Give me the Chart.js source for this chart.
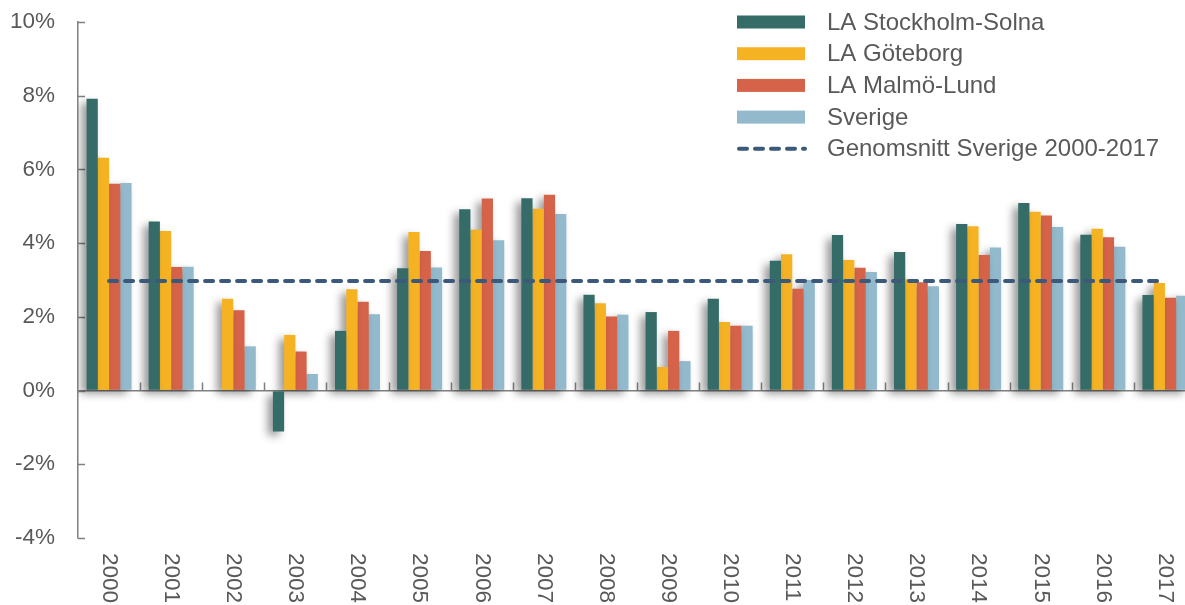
<!DOCTYPE html>
<html>
<head>
<meta charset="utf-8">
<script src="https://cdn.jsdelivr.net/npm/chart.js@4.4.1/dist/chart.umd.min.js"></script>
<style>
  html, body { margin: 0; padding: 0; background: #fff; overflow: hidden; }
  #wrap { width: 1196px; height: 605px; }
</style>
</head>
<body>
<div id="wrap"><canvas id="chart" width="1196" height="605"></canvas></div>
<script>
// --- Data ---
const years = ['2000', '2001', '2002', '2003', '2004', '2005', '2006', '2007', '2008',
               '2009', '2010', '2011', '2012', '2013', '2014', '2015', '2016', '2017'];
const stockholm = [7.92, 4.59, null, -1.11, 1.62, 3.32, 4.92, 5.22, 2.60, 2.13, 2.49, 3.52, 4.22, 3.76, 4.52, 5.09, 4.23, 2.59];
const goteborg  = [6.32, 4.33, 2.49, 1.51, 2.75, 4.30, 4.36, 4.93, 2.37, 0.64, 1.86, 3.70, 3.54, 3.02, 4.46, 4.85, 4.39, 2.92];
const malmo     = [5.61, 3.35, 2.18, 1.06, 2.41, 3.79, 5.21, 5.31, 2.01, 1.62, 1.76, 2.76, 3.33, 2.94, 3.68, 4.75, 4.16, 2.52];
const sverige   = [5.63, 3.36, 1.20, 0.45, 2.07, 3.34, 4.08, 4.79, 2.06, 0.80, 1.76, 3.00, 3.22, 2.83, 3.88, 4.44, 3.90, 2.57];
const avgSverige = 2.97;
const yMin = -4, yMax = 10, yStep = 2;

const textColor = '#595959';
const axisColor = '#808080';
const fontFamily = '"Liberation Sans", Arial, sans-serif';

// skugga bakom staplarna
const barShadow = {
    id: 'barShadow',
    beforeDatasetDraw(chart, args) {
        if (args.meta.type !== 'bar') return;
        const ctx = chart.ctx;
        ctx.save();
        ctx.shadowColor = 'rgba(0, 0, 0, 0.42)';
        ctx.shadowBlur = 8;
        ctx.shadowOffsetX = -5;
        ctx.shadowOffsetY = 4;
    },
    afterDatasetDraw(chart, args) {
        if (args.meta.type !== 'bar') return;
        chart.ctx.restore();
    }
};

// små inåtvända tickar på axlarna + årtal
const innerTicks = {
    id: 'innerTicks',
    beforeDatasetsDraw(chart) {
        const { ctx, scales: { x, y } } = chart;
        ctx.save();
        ctx.strokeStyle = axisColor;
        ctx.lineWidth = 1.5;
        ctx.beginPath();
        for (let v = yMin; v <= yMax; v += yStep) {
            const py = Math.round(y.getPixelForValue(v)) + 0.5;
            ctx.moveTo(x.left, py);
            ctx.lineTo(x.left + 7, py);
        }
        const y0 = y.getPixelForValue(0);
        for (let i = 1; i < years.length; i++) {
            const px = Math.round((x.getPixelForTick(i - 1) + x.getPixelForTick(i)) / 2) + 0.5;
            ctx.moveTo(px, y0);
            ctx.lineTo(px, y0 - 8);
        }
        ctx.stroke();
        ctx.restore();
    },
    afterDraw(chart) {
        const { ctx, scales: { x, y } } = chart;
        ctx.save();
        ctx.fillStyle = textColor;
        ctx.font = '22.5px ' + fontFamily;
        ctx.textAlign = 'left';
        ctx.textBaseline = 'middle';
        years.forEach((yr, i) => {
            ctx.save();
            ctx.translate(x.getPixelForTick(i), y.bottom + 15);
            ctx.rotate(Math.PI / 2);
            ctx.fillText(yr, 0, 0);
            ctx.restore();
        });
        ctx.restore();
    }
};

// egen legend inne i diagrammet
const boxLegend = {
    id: 'boxLegend',
    afterDraw(chart) {
        const ctx = chart.ctx;
        const x0 = 737, boxW = 68, boxH = 13, textX = 827, top = 22, rowH = 31.7;
        ctx.save();
        ctx.font = '24px ' + fontFamily;
        ctx.textBaseline = 'middle';
        ctx.textAlign = 'left';
        chart.data.datasets.forEach((ds, i) => {
            const cy = top + i * rowH;
            if (ds.type === 'line') {
                ctx.strokeStyle = ds.borderColor;
                ctx.lineWidth = 4;
                ctx.lineCap = 'round';
                ctx.setLineDash(ds.borderDash);
                ctx.beginPath();
                ctx.moveTo(x0 + 2, cy);
                ctx.lineTo(x0 + boxW, cy);
                ctx.stroke();
                ctx.setLineDash([]);
            } else {
                ctx.fillStyle = ds.backgroundColor;
                ctx.fillRect(x0, cy - boxH / 2, boxW, boxH);
            }
            ctx.fillStyle = textColor;
            ctx.fillText(ds.label, textX, cy + 1);
        });
        ctx.restore();
    }
};

const ctx = document.getElementById('chart').getContext('2d');
new Chart(ctx, {
    data: {
        labels: years,
        datasets: [
            { type: 'bar', label: 'LA Stockholm-Solna', data: stockholm, backgroundColor: '#356c68' },
            { type: 'bar', label: 'LA Göteborg', data: goteborg, backgroundColor: '#f5b324' },
            { type: 'bar', label: 'LA Malmö-Lund', data: malmo, backgroundColor: '#d5634a' },
            { type: 'bar', label: 'Sverige', data: sverige, backgroundColor: '#92b9cc' },
            {
                type: 'line', label: 'Genomsnitt Sverige 2000-2017',
                data: years.map(() => avgSverige),
                borderColor: '#3c5979', borderWidth: 4, borderDash: [8, 8],
                borderCapStyle: 'round', pointRadius: 0, fill: false, order: -1
            }
        ]
    },
    options: {
        responsive: false,
        animation: false,
        datasets: {
            bar: { categoryPercentage: 0.725, barPercentage: 1.0, borderSkipped: false }
        },
        layout: { autoPadding: false, padding: { top: 22, bottom: 67, left: 0, right: 0 } },
        plugins: { legend: { display: false }, tooltip: { enabled: false } },
        scales: {
            x: {
                display: false,
                offset: true
            },
            y: {
                min: yMin, max: yMax,
                afterFit(scale) {
                    scale.width = 78;
                    scale.paddingTop = 0;
                    scale.paddingBottom = 0;
                },
                ticks: {
                    stepSize: yStep,
                    padding: 23,
                    color: textColor,
                    font: { family: fontFamily, size: 22.5 },
                    callback: (v) => v + '%'
                },
                grid: {
                    drawTicks: false,
                    lineWidth: 1.5,
                    color: (c) => (c.tick && c.tick.value === 0) ? axisColor : 'rgba(0,0,0,0)'
                },
                border: { display: true, color: axisColor, width: 1.5 }
            }
        }
    },
    plugins: [barShadow, innerTicks, boxLegend]
});
</script>
</body>
</html>
